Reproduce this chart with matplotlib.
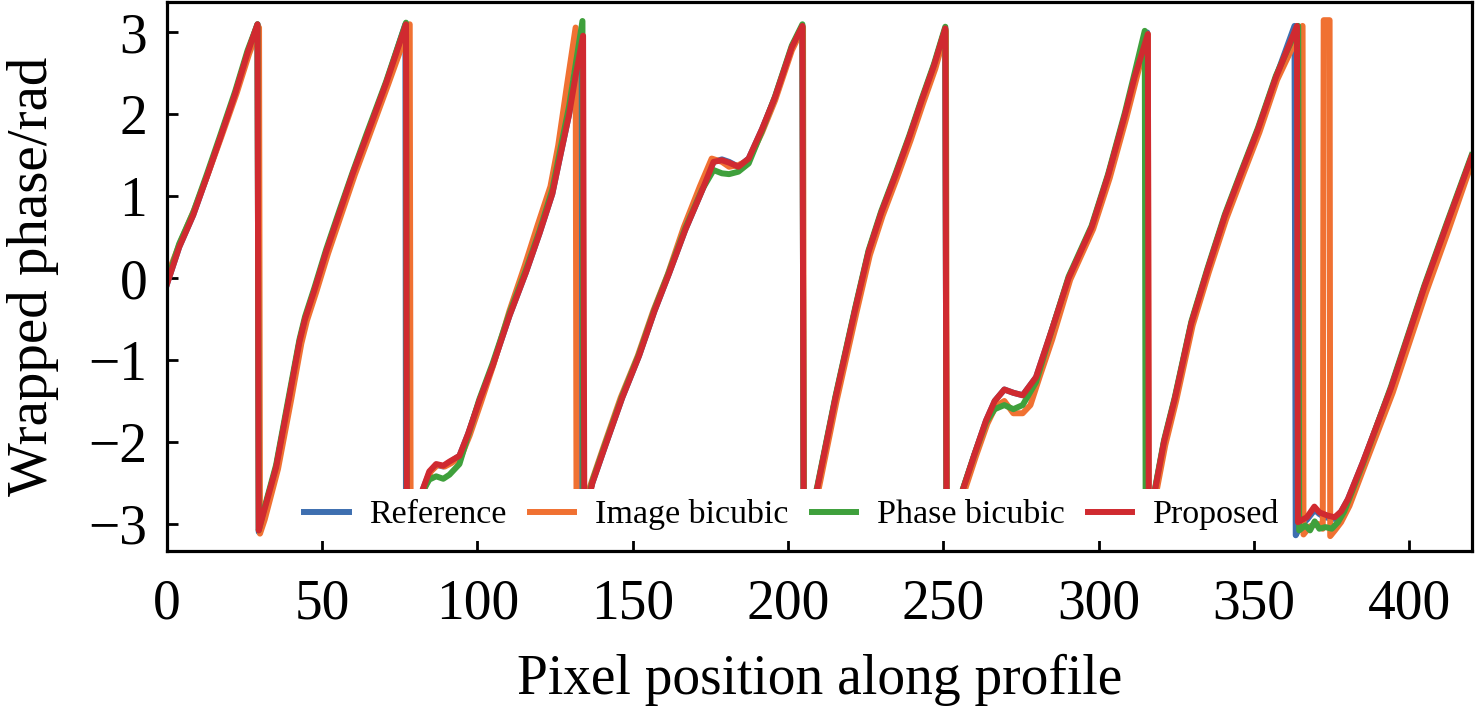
import matplotlib.pyplot as plt

plt.rcParams['font.family'] = ['Liberation Serif', 'DejaVu Serif']

# pixel position / wrapped phase, one list per curve
ref_x = [0, 4, 8.5, 13, 17, 22, 26, 29.2,
         29.6, 30.9, 35.2, 39.5, 42.7, 44.5, 47.5, 51.3, 55.6, 59.9, 64.2, 70.6, 76.8,
         77.0, 82.4, 84.5, 86.7, 89, 91, 94.2, 97, 100.6, 104.9, 110.3, 115.6, 120, 124.1, 126.3, 129.5, 131.5, 133.3,
         133.6, 137, 141.2, 146.6, 152, 157, 161.6, 166.9, 172.3, 176, 178.7, 181, 184, 187.3, 191.6, 195.8, 201.2, 204.6,
         205.0, 209.3, 215.2, 221.6, 225.9, 230, 234.5, 239, 243, 247, 250.6,
         251.0, 256.2, 260, 263.7, 266.5, 269.6, 272.5, 275.5, 279.8, 285, 290.3, 297.7, 303, 308.4, 311.5, 315.6,
         316.0, 318.1, 321, 324.5, 329.8, 335, 340.6, 346, 351.3, 357, 363.0,
         363.4, 365, 367, 369.5, 371, 372.7, 375.9, 378, 380.2, 385, 394.1, 404.8, 412, 420]
ref_y = [-0.08, 0.38, 0.77, 1.25, 1.69, 2.25, 2.75, 3.10,
         -3.10, -2.90, -2.31, -1.44, -0.78, -0.50, -0.15, 0.32, 0.80, 1.28, 1.72, 2.38, 3.10,
         -3.10, -2.58, -2.38, -2.28, -2.30, -2.25, -2.17, -1.90, -1.50, -1.07, -0.46, 0.07, 0.55, 1.03, 1.43, 2.00, 2.45, 2.98,
         -2.95, -2.50, -2.04, -1.46, -0.95, -0.40, 0.05, 0.59, 1.07, 1.42, 1.45, 1.42, 1.36, 1.46, 1.82, 2.21, 2.82, 3.08,
         -3.10, -2.58, -1.47, -0.38, 0.32, 0.80, 1.25, 1.72, 2.17, 2.60, 3.05,
         -3.10, -2.59, -2.15, -1.74, -1.50, -1.36, -1.40, -1.43, -1.21, -0.62, 0.00, 0.62, 1.25, 1.99, 2.45, 3.00,
         -3.10, -2.59, -2.00, -1.47, -0.55, 0.10, 0.76, 1.30, 1.82, 2.45, 3.08,
         -3.14, -3.02, -2.95, -2.83, -2.88, -2.92, -2.94, -2.85, -2.70, -2.25, -1.34, -0.11, 0.65, 1.48]

img_x = [0, 4.5, 9, 13.5, 17.5, 22.5, 26.5, 29.7,
         30.0, 31.5, 35.8, 40.1, 43.3, 45.1, 48.1, 51.9, 56.2, 60.5, 64.8, 71.2, 78.2,
         78.5, 82.9, 85, 87.2, 89.5, 91.5, 94.7, 97.5, 101.1, 105.2, 110.3, 115.2, 119.4, 123.5, 126.0, 128.8, 131.6,
         131.9, 136.2, 140.6, 146.1, 151.6, 156.6, 161.3, 166.4, 171.6, 175.4, 178.7, 181, 184, 187.3, 191.6, 195.8, 201.2, 204.8,
         205.1, 209.6, 215.6, 222.0, 226.3, 230.4, 234.9, 239.4, 243.4, 247.4, 250.8,
         251.1, 256.6, 260.4, 264.1, 266.9, 269.6, 272.5, 275.5, 278, 281, 285, 290.8, 298.2, 303.5, 308.9, 312, 315.8,
         316.1, 318.5, 321.4, 324.9, 330.2, 335.4, 341.0, 346.4, 351.7, 357.4, 365.6,
         365.9, 368, 370.5, 372.1, 372.4, 374.3, 374.5, 376, 378, 380.7, 385.5, 394.6, 405.3, 412.5, 420]
img_y = [0.02, 0.45, 0.85, 1.30, 1.72, 2.26, 2.74, 3.06,
         -3.12, -2.95, -2.33, -1.47, -0.80, -0.52, -0.17, 0.30, 0.78, 1.26, 1.70, 2.36, 3.10,
         -3.10, -2.58, -2.36, -2.28, -2.30, -2.26, -2.18, -1.92, -1.52, -1.05, -0.40, 0.15, 0.65, 1.12, 1.62, 2.35, 3.06,
         -3.10, -2.55, -2.06, -1.46, -0.95, -0.40, 0.05, 0.62, 1.12, 1.46, 1.42, 1.36, 1.38, 1.44, 1.78, 2.17, 2.78, 3.06,
         -3.10, -2.62, -1.50, -0.42, 0.28, 0.76, 1.21, 1.68, 2.13, 2.56, 3.02,
         -3.10, -2.62, -2.18, -1.78, -1.56, -1.50, -1.65, -1.65, -1.55, -1.20, -0.75, -0.02, 0.60, 1.22, 1.96, 2.42, 2.98,
         -3.10, -2.62, -2.04, -1.50, -0.58, 0.07, 0.72, 1.26, 1.78, 2.42, 3.08,
         -3.13, -3.03, -3.00, -3.06, 3.15, 3.15, -3.15, -3.08, -2.98, -2.78, -2.30, -1.40, -0.18, 0.58, 1.40]

pha_x = [0, 4, 8.5, 13, 17, 22, 26, 29.2,
         29.6, 30.9, 35.2, 39.5, 42.7, 44.5, 47.5, 51.3, 55.6, 59.9, 64.2, 70.6, 77.0,
         77.3, 82.4, 84.5, 86.7, 89, 91, 94.2, 97, 100.6, 104.9, 110.3, 115.6, 120, 124.1, 126.3, 129.5, 131.5, 133.8,
         134.1, 137, 141.2, 146.6, 152, 157, 161.6, 166.9, 172.3, 176, 178.7, 181, 184, 187.3, 191.6, 195.8, 201.2, 204.6,
         205.0, 209.3, 215.2, 221.6, 225.9, 230, 234.5, 239, 243, 247, 250.6,
         251.0, 256.2, 260, 263.7, 266.5, 269.6, 272.5, 275.5, 279.8, 285, 290.3, 297.7, 303, 308.4, 311.5, 314.8,
         315.1, 318.1, 321, 324.5, 329.8, 335, 340.6, 346, 351.3, 357, 364.2,
         364.5, 366.5, 368, 369.5, 371, 373, 375, 377, 379, 385, 394.1, 404.8, 412, 420]
pha_y = [-0.05, 0.42, 0.80, 1.28, 1.72, 2.28, 2.78, 3.10,
         -3.08, -2.88, -2.28, -1.40, -0.75, -0.47, -0.12, 0.35, 0.83, 1.30, 1.75, 2.40, 3.12,
         -3.10, -2.60, -2.46, -2.42, -2.45, -2.40, -2.27, -1.92, -1.48, -1.04, -0.43, 0.10, 0.58, 1.08, 1.50, 2.10, 2.58, 3.14,
         -2.95, -2.48, -2.02, -1.44, -0.93, -0.38, 0.07, 0.61, 1.08, 1.32, 1.28, 1.27, 1.30, 1.40, 1.80, 2.22, 2.84, 3.10,
         -3.10, -2.56, -1.45, -0.36, 0.34, 0.82, 1.27, 1.74, 2.19, 2.62, 3.07,
         -3.10, -2.58, -2.15, -1.76, -1.60, -1.55, -1.60, -1.55, -1.27, -0.62, 0.02, 0.64, 1.27, 2.02, 2.50, 3.02,
         -3.10, -2.57, -1.98, -1.45, -0.53, 0.12, 0.78, 1.32, 1.84, 2.47, 3.08,
         -3.08, -3.02, -3.08, -2.97, -3.06, -3.04, -3.06, -2.98, -2.85, -2.27, -1.32, -0.09, 0.67, 1.50]

pro_x = [0, 4, 8.5, 13, 17, 22, 26, 29.2,
         29.6, 30.9, 35.2, 39.5, 42.7, 44.5, 47.5, 51.3, 55.6, 59.9, 64.2, 70.6, 77.0,
         77.3, 82.4, 84.5, 86.7, 89, 91, 94.2, 97, 100.6, 104.9, 110.3, 115.6, 120, 124.1, 126.3, 129.5, 131.5, 134.0,
         134.4, 137, 141.2, 146.6, 152, 157, 161.6, 166.9, 172.3, 176, 178.7, 181, 184, 187.3, 191.6, 195.8, 201.2, 204.6,
         205.0, 209.3, 215.2, 221.6, 225.9, 230, 234.5, 239, 243, 247, 250.6,
         251.0, 256.2, 260, 263.7, 266.5, 269.6, 272.5, 275.5, 279.8, 285, 290.3, 297.7, 303, 308.4, 311.5, 315.8,
         316.1, 318.1, 321, 324.5, 329.8, 335, 340.6, 346, 351.3, 357, 363.8,
         364.1, 365, 367, 369.4, 371, 373.7, 375.9, 378, 380.2, 385, 394.1, 404.8, 412, 420]
pro_y = [-0.08, 0.38, 0.77, 1.25, 1.69, 2.25, 2.75, 3.10,
         -3.08, -2.90, -2.31, -1.44, -0.78, -0.50, -0.15, 0.32, 0.80, 1.28, 1.72, 2.38, 3.10,
         -3.10, -2.58, -2.36, -2.27, -2.29, -2.24, -2.17, -1.90, -1.50, -1.07, -0.46, 0.07, 0.55, 1.03, 1.43, 2.00, 2.45, 2.96,
         -2.95, -2.50, -2.04, -1.46, -0.95, -0.40, 0.05, 0.59, 1.07, 1.42, 1.44, 1.41, 1.36, 1.46, 1.82, 2.21, 2.82, 3.08,
         -3.10, -2.58, -1.47, -0.38, 0.32, 0.80, 1.25, 1.72, 2.17, 2.60, 3.05,
         -3.10, -2.59, -2.15, -1.74, -1.50, -1.36, -1.40, -1.43, -1.21, -0.62, 0.00, 0.62, 1.25, 1.99, 2.45, 2.98,
         -3.10, -2.59, -2.00, -1.47, -0.55, 0.10, 0.76, 1.30, 1.82, 2.45, 3.08,
         -2.98, -2.96, -2.92, -2.79, -2.86, -2.90, -2.92, -2.85, -2.70, -2.25, -1.34, -0.11, 0.65, 1.48]

labels = ['Reference', 'Image bicubic', 'Phase bicubic', 'Proposed']
colors = ['#3e6fb0', '#f07132', '#3fa03c', '#d02a30']

fig = plt.figure(figsize=(14.76, 7.21), dpi=100)
ax = fig.add_axes([0.113, 0.236, 0.884, 0.761])

for xs, ys, lab, c in zip([ref_x, img_x, pha_x, pro_x], [ref_y, img_y, pha_y, pro_y], labels, colors):
    ax.plot(xs, ys, color=c, lw=4.3, label=lab)

ax.set_xlim(0, 420)
ax.set_ylim(-3.33, 3.37)
ax.set_xticks([0, 50, 100, 150, 200, 250, 300, 350, 400])
ax.set_yticks([-3, -2, -1, 0, 1, 2, 3])
ax.tick_params(direction='in', length=8, width=2, labelsize=40)
ax.tick_params(axis='x', pad=20)
ax.tick_params(axis='y', pad=14)
for s in ax.spines.values():
    s.set_linewidth(2.3)

ax.set_xlabel('Pixel position along profile', fontsize=40, labelpad=17)
ax.set_ylabel('Wrapped phase/rad', fontsize=41, labelpad=21)

leg = ax.legend(loc='lower center', bbox_to_anchor=(0.479, 0.0), ncol=4, fontsize=24.5,
                handlelength=1.3, handletextpad=0.6, columnspacing=0.7,
                frameon=True, framealpha=1, borderpad=0.3, borderaxespad=0.3)
leg.get_frame().set_facecolor('white')
leg.get_frame().set_edgecolor('none')

fig.savefig('out.png', dpi=100)
